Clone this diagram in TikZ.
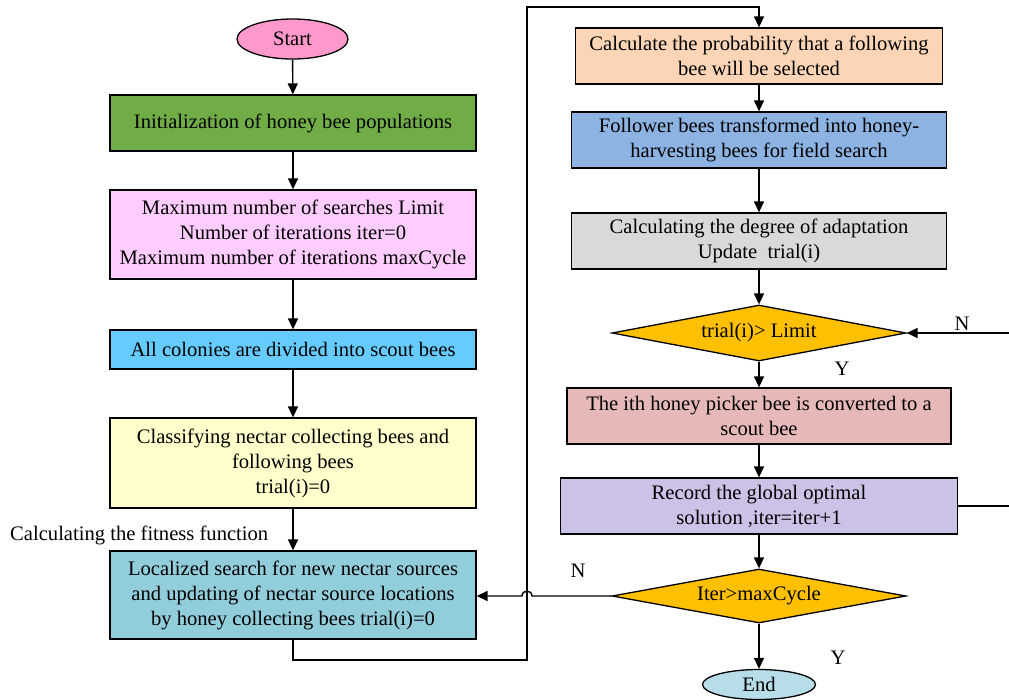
\documentclass[tikz,border=0pt]{standalone}
\usepackage{fontspec}
\setmainfont{Liberation Serif}
\usetikzlibrary{shapes.geometric,arrows.meta}
\definecolor{cstart}{HTML}{FF99CC}
\definecolor{cinit}{HTML}{70AD47}
\definecolor{cmax}{HTML}{FFCCFF}
\definecolor{call}{HTML}{66CCFF}
\definecolor{ccls}{HTML}{FFFFCC}
\definecolor{cloc}{HTML}{92CDDC}
\definecolor{cprob}{HTML}{FBD5B5}
\definecolor{cfol}{HTML}{8DB3E2}
\definecolor{cadapt}{HTML}{D9D9D9}
\definecolor{cdia}{HTML}{FFC000}
\definecolor{cconv}{HTML}{E6B9B8}
\definecolor{crec}{HTML}{CCC1E6}
\definecolor{cend}{HTML}{B7DDE8}
\begin{document}
\begin{tikzpicture}[x=1pt,y=-1pt,
  every node/.style={font=\fontsize{20.6}{25}\selectfont},
  box/.style={draw=black,line width=1.3pt,rectangle,align=center,inner sep=0pt},
  oval/.style={draw=black,line width=1.3pt,ellipse,inner sep=0pt},
  dia/.style={draw=black,line width=1.3pt,diamond,aspect=5.25,fill=cdia,inner sep=0pt,align=center},
  conn/.style={line width=1.4pt},
  arr/.style={conn,-{Triangle[length=11pt,width=10pt]}},
  lbl/.style={inner sep=0pt}]
\useasboundingbox (0,0) rectangle (1009,699);
% left column
\node[oval,fill=cstart,minimum width=111,minimum height=40] (start) at (292.5,39) {Start};
\node[box,fill=cinit,minimum width=366,minimum height=56] (init) at (293,123) {Initialization of honey bee populations};
\node[box,fill=cmax,minimum width=366,minimum height=89] (maxs) at (293,234.5) {Maximum number of searches Limit\\Number of iterations iter=0\\Maximum number of iterations maxCycle};
\node[box,fill=call,minimum width=366,minimum height=39] (all) at (293,349.5) {All colonies are divided into scout bees};
\node[box,fill=ccls,minimum width=366,minimum height=90] (cls) at (293,463) {Classifying nectar collecting bees and\\following bees\\trial(i)=0};
\node[box,fill=cloc,minimum width=366,minimum height=88] (loc) at (293,595) {Localized search for new nectar sources\\and updating of nectar source locations\\by honey collecting bees trial(i)=0};
\node[lbl,anchor=west] (fit) at (10,535) {Calculating the fitness function};
% right column
\node[box,fill=cprob,minimum width=367,minimum height=56] (prob) at (759,56) {Calculate the probability that a following\\bee will be selected};
\node[box,fill=cfol,minimum width=375,minimum height=56] (fol) at (759,140) {Follower bees transformed into honey-\\harvesting bees for field search};
\node[box,fill=cadapt,minimum width=375,minimum height=56] (adapt) at (759,241) {Calculating the degree of adaptation\\Update\ \ trial(i)};
\node[dia,minimum width=294,minimum height=56] (d1) at (759,333) {trial(i)> Limit};
\node[box,fill=cconv,minimum width=384,minimum height=56] (conv) at (759,416) {The ith honey picker bee is converted to a\\scout bee};
\node[box,fill=crec,minimum width=397,minimum height=56] (rec) at (759,506) {Record the global optimal\\solution ,iter=iter+1};
\node[dia,minimum width=294,minimum height=54] (d2) at (759,596) {Iter>maxCycle};
\node[oval,fill=cend,minimum width=113,minimum height=30] (end) at (759,684.5) {End};
% labels
\node[lbl] (n1) at (962,324) {N};
\node[lbl] (y1) at (842,369) {Y};
\node[lbl] (n2) at (578,571) {N};
\node[lbl] (y2) at (838,658) {Y};
% helper coordinates
\coordinate (c1) at (527,660);
\coordinate (c2) at (527,7);
\coordinate (hr) at (532,596);
\coordinate (hl) at (522,596);
\coordinate (eN) at (1009,333);
\coordinate (eR) at (1009,506);
% connectors left
\draw[arr] (start) -- (init);
\draw[arr] (init) -- (maxs);
\draw[arr] (maxs) -- (all);
\draw[arr] (all) -- (cls);
\draw[arr] (cls) -- (loc);
% loop to right column
\draw[arr] (loc.south) |- (c1) -- (c2) -| (prob.north);
% right column
\draw[arr] (prob) -- (fol);
\draw[arr] (fol) -- (adapt);
\draw[arr] (adapt) -- (d1);
\draw[arr] (d1) -- (conv);
\draw[arr] (conv) -- (rec);
\draw[arr] (rec) -- (d2);
\draw[arr] (d2) -- (end);
\draw[arr] (eN) -- (d1.east);
\draw[conn] (rec.east) -- (eR);
\draw[arr] (d2.west) -- (hr) .. controls (532,589.5) and (522,589.5) .. (hl) -- (loc.east |- d2.west);
\end{tikzpicture}
\end{document}
